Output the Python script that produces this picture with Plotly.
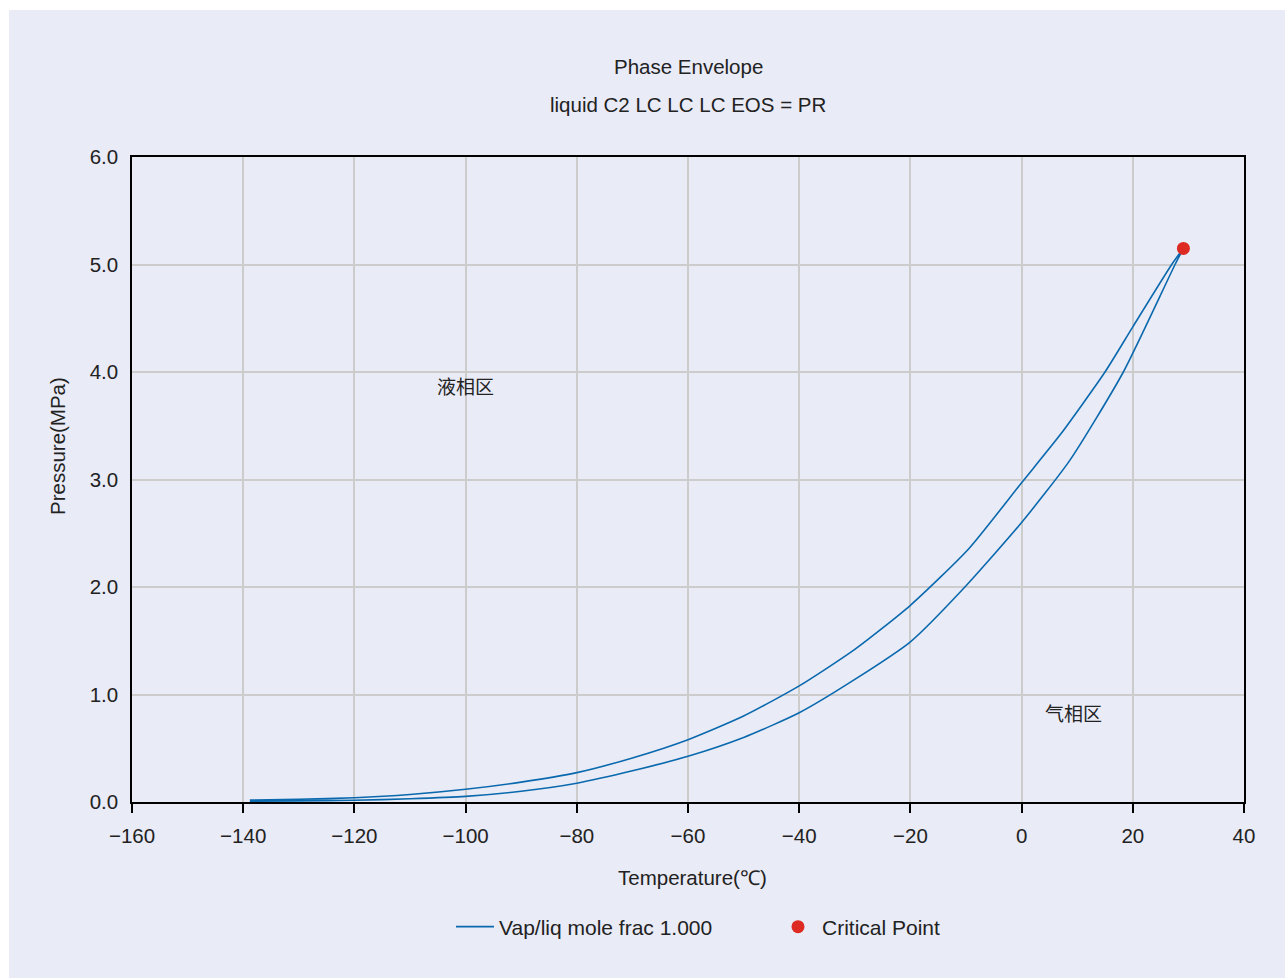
import plotly.graph_objects as go

# Upper branch of the envelope (low T -> critical point)
upper_t = [-138.8, -130, -120, -110, -100, -90, -80, -70, -60, -50, -40, -30,
           -20, -9.5, 0, 7, 15, 20, 27, 29.1]
upper_p = [0.018, 0.025, 0.04, 0.07, 0.118, 0.185, 0.273, 0.41, 0.58, 0.80,
           1.08, 1.42, 1.83, 2.356, 2.97, 3.42, 4.0, 4.42, 5.0, 5.15]

# Lower branch of the envelope (critical point -> low T)
lower_t = [29.1, 27.6, 18.3, 8.7, 0, -10.2, -20, -30, -40, -50, -60, -70,
           -80, -90, -100, -110, -120, -130, -138.8]
lower_p = [5.15, 5.0, 4.0, 3.18, 2.60, 2.0, 1.49, 1.14, 0.83, 0.60,
           0.425, 0.29, 0.175, 0.10, 0.052, 0.03, 0.016, 0.01, 0.008]

crit_t = [29.1]
crit_p = [5.15]

x_ticks = [-160, -140, -120, -100, -80, -60, -40, -20, 0, 20, 40]
y_ticks = [0, 1, 2, 3, 4, 5, 6]

BG = "#E9EBF6"
FONT = "Liberation Sans, Arial, sans-serif"
CJK = "Noto Sans CJK SC, sans-serif"
FS = 20.5

fig = go.Figure()
fig.add_trace(go.Scatter(
    x=upper_t + lower_t, y=upper_p + lower_p, mode="lines",
    name="Vap/liq mole frac 1.000",
    line=dict(color="#0A69AE", width=1.6, shape="spline", smoothing=0.6),
))
fig.add_trace(go.Scatter(
    x=crit_t, y=crit_p, mode="markers", name="Critical Point",
    marker=dict(color="#DD2A22", size=13),
))

W, H = 1285, 978
L, R, T, B = 132, 41, 157, 176
pw, ph = W - L - R, H - T - B


def px(xp):
    return (xp - L) / pw


def py(yp):
    return (H - B - yp) / ph


fig.add_shape(type="rect", xref="paper", yref="paper", layer="below",
              x0=px(9), x1=px(W + 5), y0=py(H + 5), y1=py(10),
              fillcolor=BG, line=dict(width=0))

ann = [
    dict(text="Phase Envelope", x=px(688), y=py(67), angle=0),
    dict(text="liquid C2 LC LC LC EOS = PR", x=px(688), y=py(104), angle=0),
    dict(text="Temperature(℃)", x=px(692), y=py(877), angle=0),
    dict(text="Pressure(MPa)", x=px(58), y=py(446), angle=-90),
]
for a in ann:
    fig.add_annotation(text=a["text"], xref="paper", yref="paper", x=a["x"], y=a["y"],
                       xanchor="center", yanchor="middle", showarrow=False,
                       textangle=a["angle"], font=dict(family=FONT, size=FS, color="#222"))

fig.add_annotation(text="液相区", x=-100.1, y=3.87, showarrow=False,
                   font=dict(family=CJK, size=19, color="#222"))
fig.add_annotation(text="气相区", x=9.4, y=0.83, showarrow=False,
                   font=dict(family=CJK, size=19, color="#222"))

fig.update_layout(
    width=W, height=H,
    margin=dict(l=L, r=R, t=T, b=B, autoexpand=False),
    paper_bgcolor="white", plot_bgcolor=BG,
    font=dict(family=FONT, size=FS, color="#222"),
    showlegend=True,
    legend=dict(orientation="h", x=px(451), y=py(927), xanchor="left", yanchor="middle",
                bgcolor="rgba(0,0,0,0)", font=dict(size=21), itemwidth=38,
                entrywidth=270),
)
fig.update_xaxes(range=[-160, 40], tickvals=x_ticks, showgrid=True, gridcolor="#CCCCCC",
                 gridwidth=1.5, zeroline=False, showline=True, mirror=True,
                 linecolor="black", linewidth=1.5, ticks="outside", ticklen=9,
                 tickcolor="black", tickwidth=1.5, ticklabelstandoff=6,
                 tickfont=dict(size=FS))
fig.update_yaxes(range=[0, 6], tickvals=y_ticks, tickformat=".1f", showgrid=True,
                 gridcolor="#CCCCCC", gridwidth=1.5, zeroline=False, showline=True,
                 mirror=True, linecolor="black", linewidth=1.5, ticks="",
                 ticklabelstandoff=8, tickfont=dict(size=FS))

fig.write_html("out.html")
